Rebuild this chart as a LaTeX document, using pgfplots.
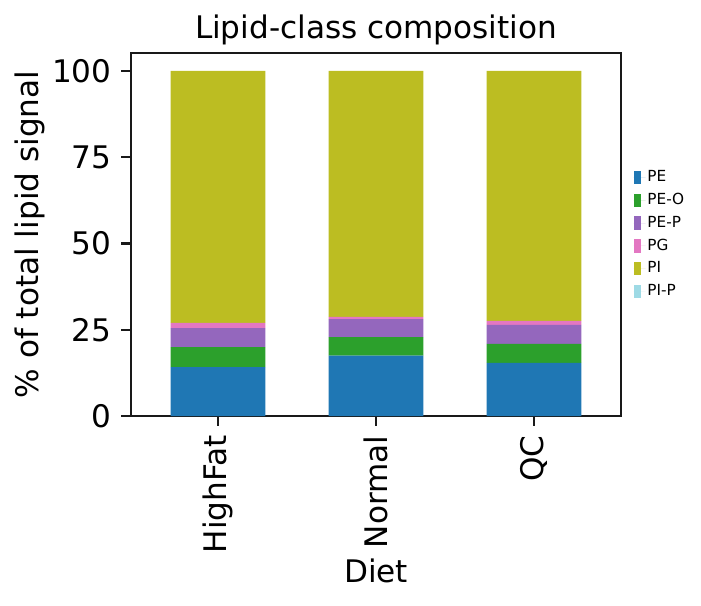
\documentclass[border=0pt]{standalone}
\usepackage{pgfplots}
\pgfplotsset{compat=1.18}
\usepackage{fontspec}
\setmainfont{DejaVu Sans}
\definecolor{cPE}{HTML}{1F77B4}
\definecolor{cPEO}{HTML}{2CA02C}
\definecolor{cPEP}{HTML}{9467BD}
\definecolor{cPG}{HTML}{E377C2}
\definecolor{cPI}{HTML}{BCBD22}
\definecolor{cPIP}{HTML}{9EDAE5}
\pgfplotsset{sqlegend/.style={legend image code/.code={\fill[##1] (0pt,-2.4pt) rectangle (2.6pt,2.4pt);\path (0pt,0pt) -- (4.4pt,0pt);}}}
\begin{document}
\begin{tikzpicture}
\useasboundingbox (-47.2pt,-68.4pt) rectangle (205.2pt,149.8pt);
\begin{axis}[
  at={(0,0)}, anchor=south west,
  scale only axis, width=176.4pt, height=130.7pt,
  ybar stacked, bar width=0.6,
  xmin=-0.55, xmax=2.55, ymin=0, ymax=105.2,
  enlargelimits=false,
  xtick={0,1,2}, xticklabels={HighFat,Normal,QC},
  ytick={0,25,50,75,100},
  /pgf/number format/assume math mode=true,
  tick label style={font=\fontsize{11.2}{13}\selectfont},
  xticklabel style={rotate=90, anchor=east},
  tick align=outside, tick pos=left,
  major tick length=3.5pt,
  every tick/.style={line width=0.8pt, black!90},
  axis line style={line width=0.8pt, black!90},
  title={Lipid-class composition},
  every axis title shift=0pt,
  title style={font=\fontsize{11.2}{13}\selectfont, anchor=base, at={(axis description cs:0.5,1)}, yshift=5.4pt},
  ylabel={\% of total lipid signal},
  ylabel style={font=\fontsize{11.2}{13}\selectfont, at={(axis description cs:-0.206,0.5)}, anchor=center},
  xlabel={Diet},
  xlabel style={font=\fontsize{11.2}{13}\selectfont, at={(axis description cs:0.5,0)}, anchor=base, yshift=-59.8pt},
  sqlegend,
  every axis plot post/.append style={sqlegend},
  legend style={at={(axis description cs:1,0.5)}, anchor=west, xshift=1.3pt,
    draw=none, fill=none, font=\fontsize{5.5}{6}\selectfont,
    nodes={inner sep=0.6pt, text height=4pt, text depth=1pt},
    row sep=2.0pt},
  legend cell align=left,
]
\addplot[fill=cPE, draw=none] coordinates {(0,14.2) (1,17.5) (2,15.4)};
\addplot[fill=cPEO, draw=none] coordinates {(0,5.8) (1,5.4) (2,5.5)};
\addplot[fill=cPEP, draw=none] coordinates {(0,5.5) (1,5.2) (2,5.5)};
\addplot[fill=cPG, draw=none] coordinates {(0,1.5) (1,0.6) (2,1.2)};
\addplot[fill=cPI, draw=none] coordinates {(0,73.0) (1,71.3) (2,72.4)};
\addplot[fill=cPIP, draw=none] coordinates {(0,0.0) (1,0.0) (2,0.0)};
\legend{PE,PE-O,PE-P,PG,PI,PI-P}
\end{axis}
\end{tikzpicture}
\end{document}
